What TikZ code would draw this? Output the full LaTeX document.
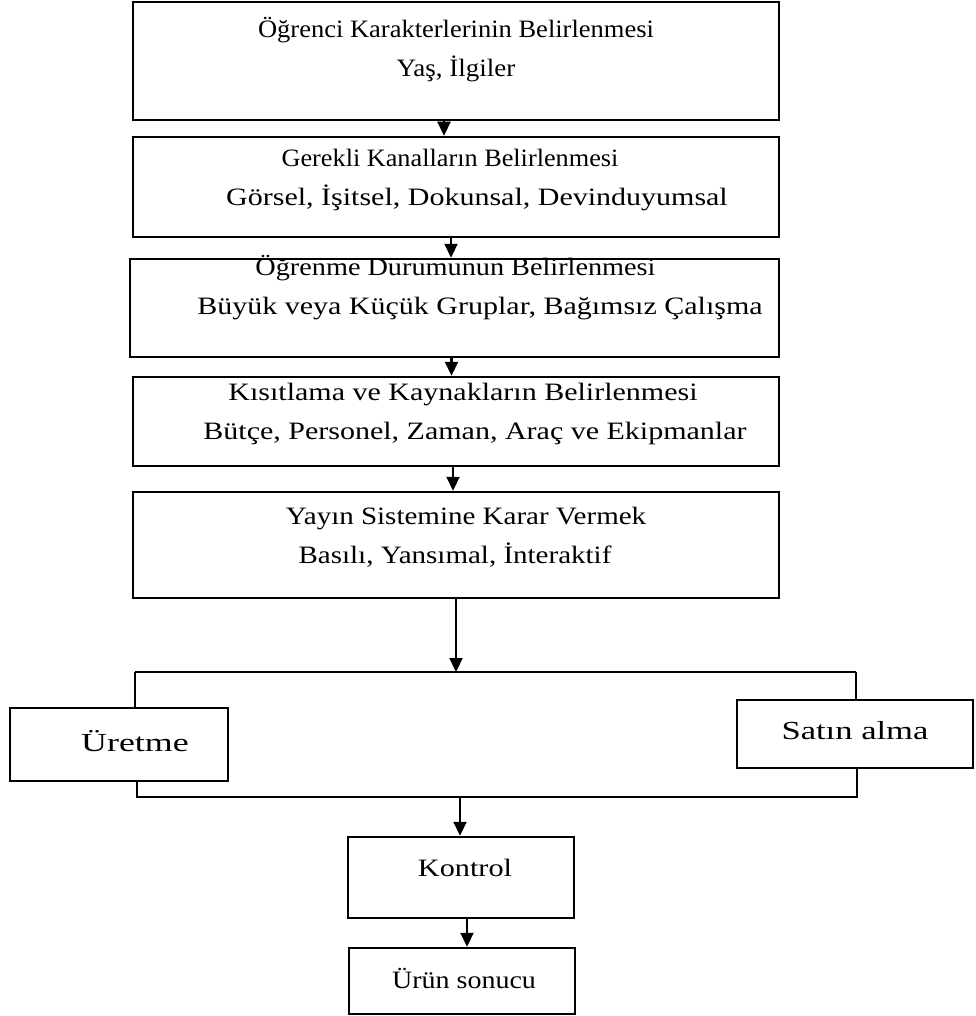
\documentclass[tikz,border=0pt]{standalone}
\usepackage{fontspec}
\setmainfont{Liberation Serif}
\usetikzlibrary{arrows.meta}
\newcommand{\stretchtxt}[2]{{\addfontfeature{FakeStretch=#1}#2}}
\begin{document}
\begin{tikzpicture}[x=1pt,y=-1pt,
  box/.style={draw=black, line width=2.5pt, rectangle, inner sep=0pt},
  lbl/.style={align=center, font=\fontsize{25}{39}\selectfont, inner sep=0pt},
  conn/.style={line width=2.2pt},
  arr/.style={line width=2.2pt, -{Triangle[width=13pt,length=14pt]}}]
\useasboundingbox (0,0) rectangle (975,1016);
% main boxes
\node[box, minimum width=646pt, minimum height=118pt] (b1) at (456,61) {};
\node[lbl] (t1) at (456,50) {\stretchtxt{1.06}{Öğrenci Karakterlerinin Belirlenmesi}\\\stretchtxt{1.08}{Yaş, İlgiler}};
\node[box, minimum width=646pt, minimum height=100pt] (b2) at (456,187) {};
\node[lbl] (t2) at (477,180) {\stretchtxt{1.05}{Gerekli Kanalların Belirlenmesi}\hspace*{54pt}\\\stretchtxt{1.2}{Görsel, İşitsel, Dokunsal, Devinduyumsal}};
\node[box, minimum width=649pt, minimum height=98pt] (b3) at (454.5,308) {};
\node[lbl] (t3) at (480,288) {\stretchtxt{1.13}{Öğrenme Durumunun Belirlenmesi}\hspace*{49pt}\\\stretchtxt{1.2}{Büyük veya Küçük Gruplar, Bağımsız Çalışma}};
\node[box, minimum width=646pt, minimum height=89pt] (b4) at (456,421.5) {};
\node[lbl] (t4) at (475,414) {\stretchtxt{1.2}{Kısıtlama ve Kaynakların Belirlenmesi}\hspace*{24pt}\\\stretchtxt{1.2}{Bütçe, Personel, Zaman, Araç ve Ekipmanlar}};
\node[box, minimum width=646pt, minimum height=106pt] (b5) at (456,545) {};
\node[lbl] (t5) at (455,537) {\hspace*{22pt}\stretchtxt{1.16}{Yayın Sistemine Karar Vermek}\\\stretchtxt{1.16}{Basılı, Yansımal, İnteraktif}};
% branch boxes
\node[box, minimum width=218pt, minimum height=73pt] (u) at (119,744.5) {};
\node[lbl, font=\fontsize{26}{30}\selectfont] (tu) at (135,741) {\stretchtxt{1.38}{Üretme}};
\node[box, minimum width=236pt, minimum height=68pt] (s) at (855,734) {};
\node[lbl, font=\fontsize{26}{30}\selectfont] (ts) at (855,731) {\stretchtxt{1.33}{Satın alma}};
% final boxes
\node[box, minimum width=226pt, minimum height=81pt] (k) at (461,877.5) {};
\node[lbl] (tk) at (465,868) {\stretchtxt{1.21}{Kontrol}};
\node[box, minimum width=226pt, minimum height=66pt] (r) at (462,981) {};
\node[lbl] (tr) at (464,978) {\stretchtxt{1.12}{Ürün sonucu}};
% junction coordinates
\coordinate (j1) at (456,672);
\coordinate (cl) at (135,672);
\coordinate (cr) at (856,672);
\coordinate (dl) at (137,797);
\coordinate (dr) at (857,797);
\coordinate (j2) at (460,797);
% arrows between main boxes
\draw[arr] ([xshift=-12pt]b1.south) -- ([xshift=-12pt]b1.south |- b2.north);
\draw[arr] ([xshift=-5pt]b2.south) -- ([xshift=-5pt]b2.south |- b3.north);
\draw[arr] ([xshift=-3pt]b3.south) -- ([xshift=-3pt]b3.south |- b4.north);
\draw[arr] ([xshift=-3pt]b4.south) -- ([xshift=-3pt]b4.south |- b5.north);
\draw[arr] (b5.south) -- (j1);
% branch
\draw[conn] (cl) -- (cr);
\draw[conn] (cl) -- (cl |- u.north);
\draw[conn] (cr) -- (cr |- s.north);
\draw[conn] (dl |- u.south) -- (dl) -- (dr) -- (dr |- s.south);
\draw[arr] (j2) -- (j2 |- k.north);
\draw[arr] ([xshift=6pt]k.south) -- ([xshift=6pt]k.south |- r.north);
\end{tikzpicture}
\end{document}
